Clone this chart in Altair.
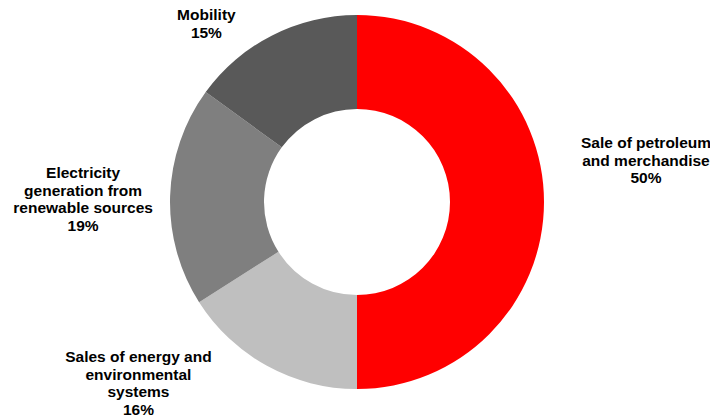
import altair as alt
import pandas as pd

categories = [
    "Sale of petroleum\nand merchandise",
    "Sales of energy and\nenvironmental\nsystems",
    "Electricity\ngeneration from\nrenewable sources",
    "Mobility",
]
values = [50, 16, 19, 15]
colors = ["#ff0000", "#bfbfbf", "#7f7f7f", "#595959"]

# label offsets (dx, dy) from a point just outside the ring at each slice's mid-angle
label_offsets = [(74, -59), (-115, -33), (-59, -22), (-53, 5)]

df = pd.DataFrame({
    "category": categories,
    "value": values,
    "idx": list(range(len(categories))),
})
df["label"] = df["category"] + "\n" + df["value"].astype(str) + "%"

base = alt.Chart(df).encode(
    theta=alt.Theta("value:Q", stack=True),
    order=alt.Order("idx:Q", sort="ascending"),
    x=alt.value(357),
    y=alt.value(202),
)

arcs = base.mark_arc(outerRadius=187, innerRadius=93, stroke=None).encode(
    color=alt.Color(
        "category:N",
        scale=alt.Scale(domain=categories, range=colors),
        legend=None,
    )
)

layers = [arcs]
for i, cat in enumerate(categories):
    dx, dy = label_offsets[i]
    layers.append(
        base.mark_text(
            radius=215,
            dx=dx,
            dy=dy,
            align="center",
            baseline="middle",
            lineBreak="\n",
            lineHeight=17.5,
            font="Liberation Sans",
            fontWeight="bold",
            fontSize=15.5,
            color="#000000",
        ).encode(
            text="label:N",
            opacity=alt.condition(alt.datum.idx == i, alt.value(1), alt.value(0)),
        )
    )

chart = alt.layer(*layers).properties(
    width=710,
    height=418,
    padding=0,
    autosize=alt.AutoSizeParams(type="none"),
    background="white",
).configure_view(stroke=None)

chart.save("out.html", embed_options={"renderer": "svg", "actions": False})
